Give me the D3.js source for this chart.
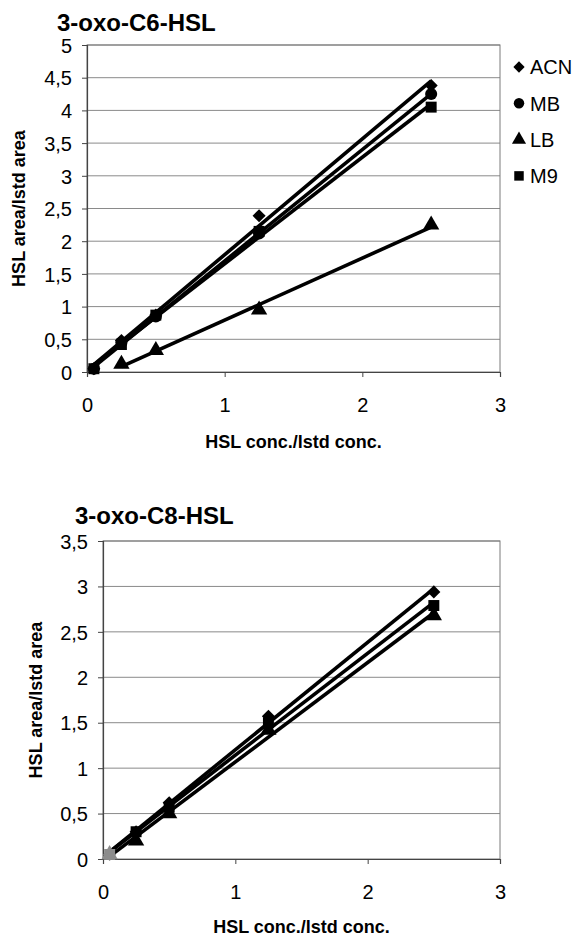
<!DOCTYPE html>
<html>
<head>
<meta charset="utf-8">
<script src="https://cdn.jsdelivr.net/npm/d3@7"></script>
<style>
  body { margin: 0; background: #fff; }
  text { font-family: "Liberation Sans", Arial, sans-serif; fill: #000; }
</style>
</head>
<body>
<svg id="fig" width="582" height="938"></svg>
<script>
// x values (HSL conc./lstd conc.) shared by both panels
const concX = [0.05, 0.25, 0.5, 1.25, 2.5];

// 3-oxo-C6-HSL
const c6ACN = [0.05, 0.48, 0.87, 2.39, 4.38];
const c6MB  = [0.05, 0.45, 0.85, 2.12, 4.25];
const c6LB  = [null, 0.12, 0.33, 0.95, 2.25];
const c6M9  = [0.05, 0.42, 0.87, 2.15, 4.05];

// 3-oxo-C8-HSL
const c8ACN = [0.05, 0.30, 0.62, 1.57, 2.94];
const c8LB  = [0.05, 0.20, 0.50, 1.42, 2.68];
const c8M9  = [0.05, 0.30, 0.57, 1.50, 2.79];

const legendNames = ["ACN", "MB", "LB", "M9"];
const xTicks = [0, 1, 2, 3];
const c6YTicks = [0, 0.5, 1, 1.5, 2, 2.5, 3, 3.5, 4, 4.5, 5];
const c8YTicks = [0, 0.5, 1, 1.5, 2, 2.5, 3, 3.5];

// diamond = square turned 45 degrees, like the Excel marker
const symbols = {
  ACN: d3.symbolSquare,
  MB: d3.symbolCircle,
  LB: d3.symbolTriangle,
  M9: d3.symbolSquare
};
const symRot = { ACN: 45, MB: 0, LB: 0, M9: 0 };
const symSize = { ACN: 85, MB: 115, LB: 115, M9: 120 };

const svg = d3.select("#fig");
const comma = d => String(d).replace(".", ",");

// least squares line for one series
function fit(xs, ys) {
  const pts = xs.map((x, i) => [x, ys[i]]).filter(p => p[1] != null);
  const mx = d3.mean(pts, p => p[0]), my = d3.mean(pts, p => p[1]);
  const sxy = d3.sum(pts, p => (p[0] - mx) * (p[1] - my));
  const sxx = d3.sum(pts, p => (p[0] - mx) * (p[0] - mx));
  const b = sxy / sxx, a = my - b * mx;
  const x0 = d3.min(pts, p => p[0]), x1 = d3.max(pts, p => p[0]);
  return [[x0, a + b * x0], [x1, a + b * x1]];
}

function drawPanel(cfg) {
  const g = svg.append("g");
  const x = d3.scaleLinear().domain([0, 3]).range([cfg.left, cfg.right]);
  const y = d3.scaleLinear().domain([0, cfg.yMax]).range([cfg.bottom, cfg.top]);

  // gridlines
  g.selectAll(".grid").data(cfg.yTicks.filter(d => d > 0)).join("line")
    .attr("x1", cfg.left).attr("x2", cfg.right)
    .attr("y1", d => y(d)).attr("y2", d => y(d))
    .attr("stroke", "#8a8a8a").attr("stroke-width", 1);

  // plot frame
  g.append("rect")
    .attr("x", cfg.left).attr("y", cfg.top)
    .attr("width", cfg.right - cfg.left).attr("height", cfg.bottom - cfg.top)
    .attr("fill", "none").attr("stroke", "#7a7a7a").attr("stroke-width", 1);

  // axes
  const yAxis = d3.axisLeft(y).tickValues(cfg.yTicks).tickFormat(comma).tickSize(5).tickPadding(10);
  const xAxis = d3.axisBottom(x).tickValues(xTicks).tickFormat(d3.format("d")).tickSize(5).tickPadding(21);

  const ya = g.append("g").attr("transform", `translate(${cfg.left},0)`).call(yAxis);
  const xa = g.append("g").attr("transform", `translate(0,${cfg.bottom})`).call(xAxis);
  [ya, xa].forEach(a => {
    a.select(".domain").attr("stroke", "#444").attr("stroke-width", 1.2);
    a.selectAll(".tick line").attr("stroke", "#444");
    a.selectAll("text").style("font-size", "20px").style("font-family", "Liberation Sans, Arial, sans-serif").attr("fill", "#000");
  });
  ya.selectAll("text").attr("dy", "0.36em");

  // trendlines
  const line = d3.line().x(d => x(d[0])).y(d => y(d[1]));
  cfg.series.forEach(s => {
    g.append("path").datum(fit(concX, s.values))
      .attr("d", line).attr("fill", "none")
      .attr("stroke", "#000").attr("stroke-width", 3.6);
  });

  // markers
  cfg.series.forEach(s => {
    const pts = concX.map((cx, i) => ({ x: cx, y: s.values[i], i })).filter(p => p.y != null);
    g.selectAll(null).data(pts).join("path")
      .attr("d", d3.symbol().type(symbols[s.name]).size(symSize[s.name]))
      .attr("transform", p => `translate(${x(p.x)},${y(p.y)}) rotate(${symRot[s.name]})`)
      .attr("fill", p => (cfg.greyFirst && p.i === 0) ? "#8c8c8c" : "#000");
  });

  // titles
  g.append("text").attr("x", cfg.titleX).attr("y", cfg.titleY)
    .style("font-size", "24px").style("font-weight", "bold").text(cfg.title);

  g.append("text")
    .attr("transform", `translate(${cfg.yTitleX},${(cfg.top + cfg.bottom) / 2}) rotate(-90)`)
    .attr("text-anchor", "middle").attr("dy", "0.36em")
    .style("font-size", "18px").style("font-weight", "bold")
    .text("HSL area/lstd area");

  g.append("text")
    .attr("x", (cfg.left + cfg.right) / 2).attr("y", cfg.xTitleY)
    .attr("text-anchor", "middle")
    .style("font-size", "18px").style("font-weight", "bold")
    .text("HSL conc./lstd conc.");
}

drawPanel({
  title: "3-oxo-C6-HSL", titleX: 57, titleY: 31,
  left: 87, right: 500, top: 45, bottom: 372, yMax: 5, yTicks: c6YTicks,
  yTitleX: 19, xTitleY: 448, greyFirst: false,
  series: [
    { name: "ACN", values: c6ACN },
    { name: "MB", values: c6MB },
    { name: "LB", values: c6LB },
    { name: "M9", values: c6M9 }
  ]
});

drawPanel({
  title: "3-oxo-C8-HSL", titleX: 75, titleY: 524,
  left: 103, right: 500, top: 541, bottom: 859, yMax: 3.5, yTicks: c8YTicks,
  yTitleX: 36, xTitleY: 933, greyFirst: true,
  series: [
    { name: "ACN", values: c8ACN },
    { name: "LB", values: c8LB },
    { name: "M9", values: c8M9 }
  ]
});

// legend (top panel only)
const leg = svg.append("g");
legendNames.forEach((n, i) => {
  const cy = 67 + i * 36.3;
  leg.append("path")
    .attr("d", d3.symbol().type(symbols[n]).size(symSize[n] * 0.75))
    .attr("transform", `translate(519,${cy}) rotate(${symRot[n]})`)
    .attr("fill", "#000");
  leg.append("text").attr("x", 530).attr("y", cy).attr("dy", "0.36em")
    .style("font-size", "20px").text(n);
});
</script>
</body>
</html>
